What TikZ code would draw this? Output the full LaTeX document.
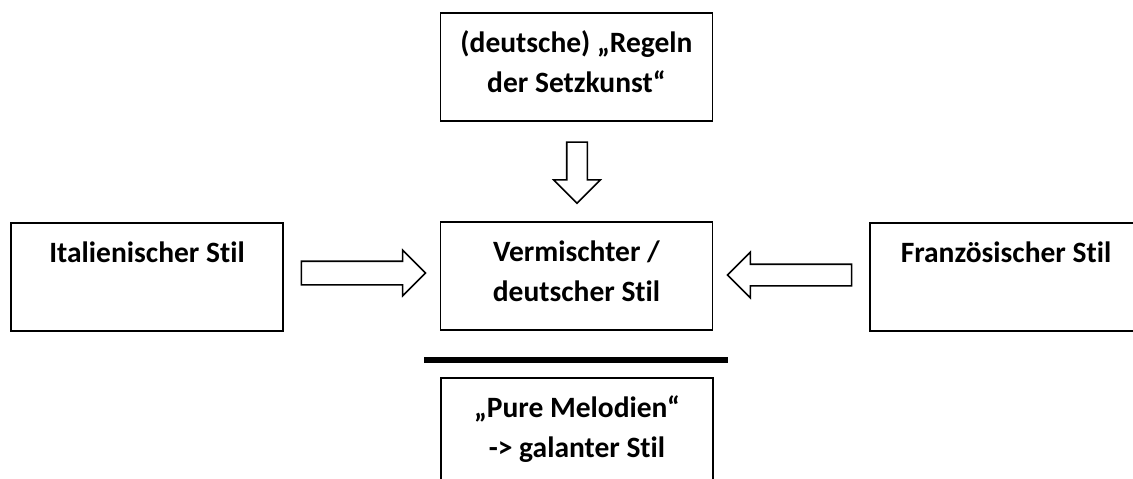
\documentclass[tikz,border=0pt]{standalone}
\usepackage{fontspec}
\setmainfont{Carlito}[Ligatures=NoCommon]
\usepackage{tikz}
\usetikzlibrary{shapes.arrows}

% text of a box: top-aligned lines in a fixed frame
\newcommand{\boxtext}[1]{%
  \parbox[c][108pt][t]{272pt}{\centering\rule{0pt}{39.5pt}#1}}

\begin{document}
\begin{tikzpicture}[x=1pt, y=-1pt,
    font=\fontsize{29.5}{40}\selectfont\bfseries,
    box/.style={draw, line width=1.2pt, inner sep=0pt},
    blockarr/.style={draw, line width=1.6pt, single arrow, inner xsep=0pt,
                     single arrow head indent=0pt, single arrow tip angle=90,
                     minimum height=#1},
    blockarr/.default=124pt]

  \useasboundingbox (0,0) rectangle (1133,479);

  %% boxes
  \node[box] (regeln) at (576.5,67)  {\boxtext{(deutsche) „Regeln\\der Setzkunst“}};
  \node[box] (mixed)  at (576.5,276) {\boxtext{Vermischter /\\deutscher Stil}};
  \node[box] (ital)   at (147,277)   {\boxtext{Italienischer Stil}};
  \node[box] (franz)  at (1006,277)  {\boxtext{Französischer Stil}};
  \node[box] (galant) at (577,432)   {\boxtext{„Pure Melodien“\\-> galanter Stil}};

  %% block arrows into the middle box
  \node[blockarr=61pt, inner ysep=9.5pt, single arrow head extend=13pt,
        rotate=-90] (down) at (577,167.5) {};
  \node[blockarr, inner ysep=11pt, single arrow head extend=11pt]
        (fromital) at (357.5,273) {};
  \node[blockarr, inner ysep=10pt, single arrow head extend=12pt,
        rotate=180] (fromfranz) at (795,275) {};

  %% separator
  \draw[line width=6pt] (424,360) -- (728,360);

\end{tikzpicture}
\end{document}
